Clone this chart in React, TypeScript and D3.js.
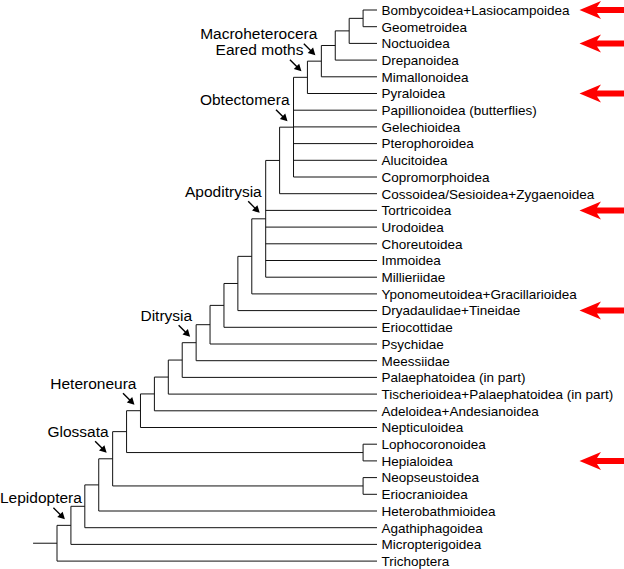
import React from "react";
import * as d3 from "d3";

const taxa = [
  "Bombycoidea+Lasiocampoidea",
  "Geometroidea",
  "Noctuoidea",
  "Drepanoidea",
  "Mimallonoidea",
  "Pyraloidea",
  "Papillionoidea (butterflies)",
  "Gelechioidea",
  "Pterophoroidea",
  "Alucitoidea",
  "Copromorphoidea",
  "Cossoidea/Sesioidea+Zygaenoidea",
  "Tortricoidea",
  "Urodoidea",
  "Choreutoidea",
  "Immoidea",
  "Millieriidae",
  "Yponomeutoidea+Gracillarioidea",
  "Dryadaulidae+Tineidae",
  "Eriocottidae",
  "Psychidae",
  "Meessiidae",
  "Palaephatoidea (in part)",
  "Tischerioidea+Palaephatoidea (in part)",
  "Adeloidea+Andesianoidea",
  "Nepticuloidea",
  "Lophocoronoidea",
  "Hepialoidea",
  "Neopseustoidea",
  "Eriocranioidea",
  "Heterobathmioidea",
  "Agathiphagoidea",
  "Micropterigoidea",
  "Trichoptera",
];

// Topology: each spine step joins the previous clade with these siblings (leaf indices / small clades)
const spineSiblings: any[] = [
  [1],
  [2],
  [3],
  [4],
  [5],
  [6, 7, 8, 9, 10],
  [11],
  [12, 13, 14, 15, 16],
  [17],
  [18],
  [19],
  [20],
  [21],
  [22],
  [23],
  [24],
  [25],
  [[26, 27]],
  [[28, 29]],
  [30],
  [31],
  [32],
  [33],
];
const spineStart = 0;

const cladeNames = [
  "Macroheterocera",
  "Eared moths",
  "Obtectomera",
  "Apoditrysia",
  "Ditrysia",
  "Heteroneura",
  "Glossata",
  "Lepidoptera",
];
// leaf index range spanned by each named clade
const cladeSpans = [
  [0, 4],
  [0, 5],
  [0, 10],
  [0, 16],
  [0, 21],
  [0, 25],
  [0, 29],
  [0, 32],
];

const highlighted = [
  "Bombycoidea+Lasiocampoidea",
  "Noctuoidea",
  "Pyraloidea",
  "Tortricoidea",
  "Dryadaulidae+Tineidae",
  "Hepialoidea",
];

const W = 624;
const H = 569;
const FONT = "'Liberation Sans', Arial, Helvetica, sans-serif";

function measure(text: string, size: number) {
  const c = document.createElement("canvas").getContext("2d");
  if (!c) return text.length * size * 0.5;
  c.font = `${size}px ${FONT}`;
  return c.measureText(text).width;
}

export default function App() {
  let topology: any = spineStart;
  spineSiblings.forEach((sib) => {
    topology = [topology, ...sib];
  });

  const root = d3.hierarchy<any>(topology, (d) => (Array.isArray(d) ? d : null));
  const leaves = root.leaves();
  const maxH = root.height;

  const y = d3.scaleLinear().domain([0, leaves.length - 1]).range([10, 561.1]);
  const x = d3.scaleLinear().domain([maxH, 0]).range([57, 377]);

  const pos = new Map<any, { x: number; y: number; lo: number; hi: number }>();
  leaves.forEach((l, i) => {
    pos.set(l, { x: x(0), y: y(i), lo: l.data, hi: l.data });
  });
  root.eachAfter((n) => {
    if (!n.children) return;
    const kids = n.children.map((c) => pos.get(c)!);
    pos.set(n, {
      x: x(n.height),
      y: (kids[0].y + kids[kids.length - 1].y) / 2,
      lo: d3.min(kids, (k) => k.lo)!,
      hi: d3.max(kids, (k) => k.hi)!,
    });
  });

  const segs: { x1: number; y1: number; x2: number; y2: number }[] = [];
  root.each((n) => {
    const p = pos.get(n)!;
    if (n.parent) {
      const pp = pos.get(n.parent)!;
      segs.push({ x1: pp.x, y1: p.y, x2: p.x, y2: p.y });
    }
    if (n.children) {
      const a = pos.get(n.children[0])!;
      const b = pos.get(n.children[n.children.length - 1])!;
      segs.push({ x1: p.x, y1: a.y, x2: p.x, y2: b.y });
    }
  });
  const rp = pos.get(root)!;
  segs.push({ x1: x(maxH + 1.72), y1: rp.y, x2: rp.x, y2: rp.y });

  const nodesList: any[] = [];
  root.each((n) => nodesList.push(n));
  const clades = cladeNames.map((name, i) => {
    const [lo, hi] = cladeSpans[i];
    const node = nodesList.find((n) => {
      const p = pos.get(n)!;
      return n.children && p.lo === lo && p.hi === hi;
    });
    return { name, p: pos.get(node)! };
  });

  const arrowHead = (tx: number, ty: number) => {
    const len = 7,
      hw = 3.8;
    const ux = Math.SQRT1_2,
      uy = Math.SQRT1_2;
    const bx = tx - ux * len,
      by = ty - uy * len;
    return `${tx},${ty} ${bx - uy * hw},${by + ux * hw} ${bx + uy * hw},${by - ux * hw}`;
  };

  const redArrow = (cy: number) => {
    const tip = 579.5,
      barbX = 601,
      notch = 597,
      hh = 9,
      sw = 3;
    return `${tip},${cy} ${barbX},${cy - hh} ${notch},${cy - sw} ${W},${cy - sw} ${W},${cy + sw} ${notch},${cy + sw} ${barbX},${cy + hh}`;
  };

  return (
    <svg
      width={W}
      height={H}
      style={{ position: "absolute", left: 0, top: 0, background: "#fff" }}
      fontFamily={FONT}
    >
      <rect width={W} height={H} fill="#fff" />
      <g stroke="#111" strokeWidth={1} fill="none">
        {segs.map((s, i) => (
          <line key={i} x1={s.x1} y1={s.y1} x2={s.x2} y2={s.y2} />
        ))}
      </g>
      <g fontSize={13.5} fill="#000">
        {leaves.map((l, i) => (
          <text key={i} x={x(0) + 4.5} y={y(i)} dy="0.36em">
            {taxa[l.data]}
          </text>
        ))}
      </g>
      <g fill="#ff0000">
        {leaves
          .filter((l) => highlighted.includes(taxa[l.data]))
          .map((l, i) => (
            <polygon key={i} points={redArrow(pos.get(l)!.y)} />
          ))}
      </g>
      <g>
        {clades.map((c, i) => {
          const w = measure(c.name, 15.5);
          const tx = Math.max(0, c.p.x - 4 - w);
          const sx = c.p.x - 17.5,
            sy = c.p.y - 17.5;
          const ex = c.p.x - 6,
            ey = c.p.y - 6;
          return (
            <g key={i}>
              <text x={tx} y={c.p.y - 22} fontSize={15.5} fill="#000">
                {c.name}
              </text>
              <line x1={sx} y1={sy} x2={ex - 4} y2={ey - 4} stroke="#000" strokeWidth={1.4} />
              <polygon points={arrowHead(ex, ey)} fill="#000" />
            </g>
          );
        })}
      </g>
    </svg>
  );
}
